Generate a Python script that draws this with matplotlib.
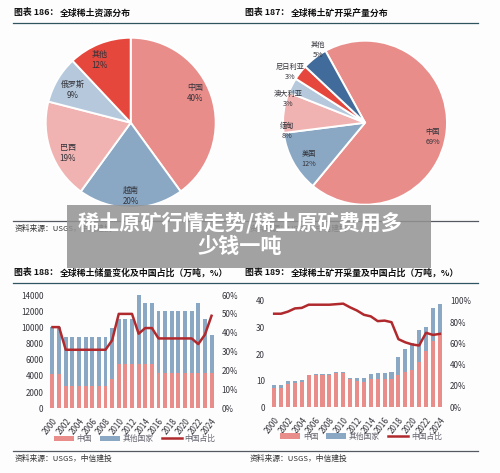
import matplotlib
matplotlib.use("Agg")
import matplotlib.pyplot as plt
import numpy as np

plt.rcParams["font.family"] = ["Noto Sans CJK SC", "DejaVu Sans"]

W, H = 500, 473

# pies
res_labels = ["中国", "越南", "巴西", "俄罗斯", "其他"]
res_values = [40, 20, 19, 9, 12]
prod_labels = ["中国", "美国", "缅甸", "澳大利亚", "尼日利亚", "其他"]
prod_values = [69, 12, 8, 3, 3, 5]

# reserves
years = list(range(2000, 2025))
res_china = [4300, 4300, 2700, 2700, 2700, 2700, 2700, 2700, 2700, 3600, 5500, 5500, 5500,
             5500, 5500, 5500, 4400, 4400, 4400, 4400, 4400, 4400, 4400, 4400, 4400]
res_total = [10000, 10000, 8800, 8800, 8800, 8800, 8800, 8800, 8800, 9900, 11000, 11000, 11000,
             14000, 13000, 13000, 12000, 12000, 12000, 12000, 12000, 12000, 13000, 11000, 9000]
res_share = [43, 43, 31, 31, 31, 31, 31, 31, 31, 36, 50, 50, 50,
             39.5, 42.5, 42.5, 37, 37, 37, 37, 37, 37, 34, 39, 49]

# mine output
out_china = [7.3, 7.3, 8.8, 9.2, 9.6, 11.9, 11.9, 12, 12, 12.8, 13, 10.5, 10,
             9.5, 10.5, 10.5, 10.5, 10.5, 12, 13.2, 14, 16.8, 21, 25, 27]
out_total = [8.4, 8.4, 9.8, 9.8, 10.3, 12.2, 12.3, 12.4, 12.4, 13.2, 13.3, 11.1, 11,
             11, 12.3, 13, 12.9, 13.2, 19, 22, 24, 29, 30, 37.5, 39]
out_share = [88, 88, 90, 93, 93.5, 96.5, 96.5, 96.5, 96.5, 97, 97.5, 94, 91,
             87, 85.5, 81, 81.5, 80, 64, 61, 59, 58, 70, 68, 69]

RED = "#e88d8a"
BLUE = "#8aa8c4"
PINK = "#f0b3b1"
PALE = "#b6c9dc"
BRIGHT = "#e5473d"
NAVY = "#416b9b"
LINE = "#b02a2d"
TEXT = "#33333a"
RULE = "#2f5560"


def px_axes(fig, left, top, right, bottom, **kw):
    # axes placed by pixel box, y measured from the top
    return fig.add_axes([left / W, 1 - bottom / H, (right - left) / W, (bottom - top) / H], **kw)


def draw_pie(fig, cx, cy, r, values, labels, colors, start, label_pos, size):
    ax = px_axes(fig, cx - r, cy - r, cx + r, cy + r)
    ax.pie(values, colors=colors, startangle=start, counterclock=False, radius=1,
           wedgeprops={"edgecolor": "white", "linewidth": 1.4})
    ax.set_xlim(-1, 1)
    ax.set_ylim(-1, 1)
    for name, val, (x, y) in zip(labels, values, label_pos):
        fig.text(x / W, 1 - y / H, f"{name}\n{val}%", ha="center", va="center",
                 fontsize=size, color=TEXT, linespacing=1.25, zorder=5)


def draw_combo(fig, box, years, china, total, share, ymax, yticks, smax, sticks, legend_px):
    left, top, right, bottom = box
    ax = px_axes(fig, left, top, right, bottom)
    other = np.array(total) - np.array(china)
    ax.bar(years, china, width=0.6, color=RED, label="中国")
    ax.bar(years, other, width=0.6, bottom=china, color=BLUE, label="其他国家")
    ax.set_xlim(years[0] - 0.75, years[-1] + 0.75)
    ax.set_ylim(0, ymax)
    ax.set_yticks(yticks)
    ax.set_xticks(years[::2])
    ax.set_xticklabels(years[::2], rotation=52, ha="right", va="top", rotation_mode="anchor")
    ax.tick_params(axis="x", length=0, labelsize=5.8, colors=TEXT, pad=6)
    ax.tick_params(axis="y", length=0, labelsize=5.8, colors=TEXT, pad=3)
    for s in ax.spines.values():
        s.set_visible(False)
    ax.patch.set_alpha(0)

    ax2 = ax.twinx()
    ax2.plot(years, share, color=LINE, linewidth=1.8, label="中国占比")
    ax2.set_ylim(0, smax)
    ax2.set_yticks(sticks)
    ax2.set_yticklabels([f"{t}%" for t in sticks])
    ax2.tick_params(length=0, labelsize=5.8, colors=TEXT, pad=3.5)
    for s in ax2.spines.values():
        s.set_visible(False)
    ax2.patch.set_alpha(0)

    h1, l1 = ax.get_legend_handles_labels()
    h2, l2 = ax2.get_legend_handles_labels()
    # legend centre given in page pixels
    fig.legend(h1 + h2, l1 + l2, ncol=3, frameon=False, fontsize=5.6, labelcolor="#666670",
               loc="center", bbox_to_anchor=(legend_px[0] / W, 1 - legend_px[1] / H),
               columnspacing=1.03, handlelength=2.57, handletextpad=0.35, borderpad=0)


fig = plt.figure(figsize=(W / 100, H / 100), dpi=100, facecolor="#fdfdfe")

# headers
titles = [(14, 13, "图表 186：", 60, "全球稀土资源分布"),
          (245, 13, "图表 187：", 291, "全球稀土矿开采产量分布"),
          (14, 273, "图表 188：", 60, "全球稀土储量变化及中国占比（万吨，%）"),
          (245, 273, "图表 189：", 291, "全球稀土矿开采量及中国占比（万吨，%）")]
for x, y, a, x2, b in titles:
    fig.text(x / W, 1 - y / H, a, fontsize=6.4, fontweight="bold", color="#111", va="center")
    fig.text(x2 / W, 1 - y / H, b, fontsize=6.4, fontweight="bold", color="#111", va="center")

for y, col in [(23.5, RULE), (220.5, "#555a60"), (282.5, RULE), (450.5, "#555a60")]:
    fig.add_artist(plt.Line2D([13 / W, 478 / W], [1 - y / H, 1 - y / H], color=col, linewidth=0.9))

for x, y, s in [(15, 229, "资料来源：USGS，中信建投"), (250, 229, "资料来源：USGS，中信建投"),
                (15, 458.5, "资料来源：USGS，中信建投"), (250, 458.5, "资料来源：USGS，中信建投")]:
    fig.text(x / W, 1 - y / H, s, fontsize=5.6, style="italic", color="#333", va="center")

draw_pie(fig, 130.7, 122.7, 85, res_values, res_labels,
         [RED, BLUE, PINK, PALE, BRIGHT], 90,
         [(195, 93), (131, 196), (68, 153), (73, 90), (100, 60)], 5.8)
draw_pie(fig, 365, 122.7, 82, prod_values, prod_labels,
         [RED, BLUE, PINK, PALE, BRIGHT, NAVY], 118.8,
         [(433, 137), (308.5, 159), (286.5, 131), (288, 99), (290, 72), (318, 50)], 5.2)

draw_combo(fig, (47.5, 295, 216.5, 408.3), years, res_china, res_total, res_share,
           14000, range(0, 14001, 2000), 60, range(0, 61, 10), (134.5, 439))
draw_combo(fig, (269, 301, 445, 407), years, out_china, out_total, out_share,
           40, range(0, 41, 10), 100, range(0, 101, 20), (361, 436.7))

# headline banner over the page
fig.add_artist(plt.Rectangle((67 / W, 1 - 268 / H), 364 / W, 63 / H, transform=fig.transFigure,
                             facecolor="#939393", alpha=0.86, edgecolor="none", zorder=10))
fig.text(240 / W, 1 - 234.5 / H, "稀土原矿行情走势/稀土原矿费用多\n少钱一吨", ha="center", va="center",
         fontsize=15.2, fontweight="bold", color="white", linespacing=1.15, zorder=11)

fig.savefig("out.png", dpi=100, facecolor=fig.get_facecolor())
